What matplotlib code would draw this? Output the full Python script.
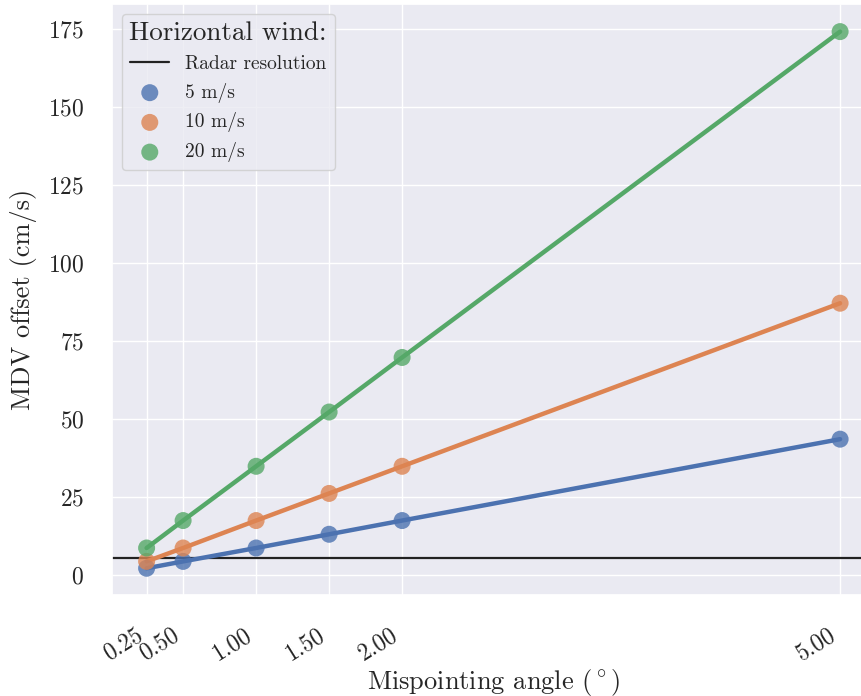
import matplotlib
matplotlib.use("Agg")
import matplotlib.pyplot as plt
import seaborn as sns

# Mispointing angles (deg) and MDV offsets (cm/s)
angles = [0.25, 0.5, 1.0, 1.5, 2.0, 5.0]
angle_labels = ["0.25", "0.50", "1.00", "1.50", "2.00", "5.00"]
offset_5 = [2.2, 4.4, 8.7, 13.1, 17.5, 43.6]
offset_10 = [4.4, 8.7, 17.5, 26.2, 34.9, 87.2]
offset_20 = [8.7, 17.5, 34.9, 52.3, 69.8, 174.3]
wind_labels = ["5 m/s", "10 m/s", "20 m/s"]
radar_resolution = 5.6
y_ticks = [0, 25, 50, 75, 100, 125, 150, 175]

sns.set_theme(style="darkgrid", palette="deep")
plt.rcParams["font.family"] = ["cmr10", "DejaVu Serif"]
plt.rcParams["mathtext.fontset"] = "cm"
plt.rcParams["axes.formatter.use_mathtext"] = True

fig = plt.figure(figsize=(8.61, 6.96), dpi=100)
ax = fig.add_axes([0.130, 0.145, 0.886, 0.849])

colors = sns.color_palette("deep")
for vals, label, c in zip([offset_5, offset_10, offset_20], wind_labels, colors):
    ax.plot(angles, vals, color=c, lw=3.2, zorder=3)
    ax.scatter(angles, vals, color=c, s=150, alpha=0.8, label=label,
               zorder=4, edgecolors="none")

ax.axhline(radar_resolution, color="#222222", lw=1.6, label="Radar resolution",
           zorder=2)

ax.set_xticks(angles)
ax.set_xticklabels(angle_labels, rotation=32, ha="right", fontsize=17)
ax.set_yticks(y_ticks)
ax.tick_params(axis="y", labelsize=17, pad=14)
ax.tick_params(axis="x", pad=15)
ax.set_xlim(0.0125, 5.2375)
ax.set_ylim(-6.4, 183.1)

ax.set_xlabel("Mispointing angle " + r"$(^\circ)$", fontsize=19, labelpad=1)
ax.set_ylabel("MDV offset (cm/s)", fontsize=19, labelpad=8)

handles, labels = ax.get_legend_handles_labels()
order = [3, 0, 1, 2]
ax.legend([handles[i] for i in order], [labels[i] for i in order],
          title="Horizontal wind:", loc="upper left", fontsize=14,
          title_fontsize=19.5, frameon=True)

fig.savefig("out.png", dpi=100)
